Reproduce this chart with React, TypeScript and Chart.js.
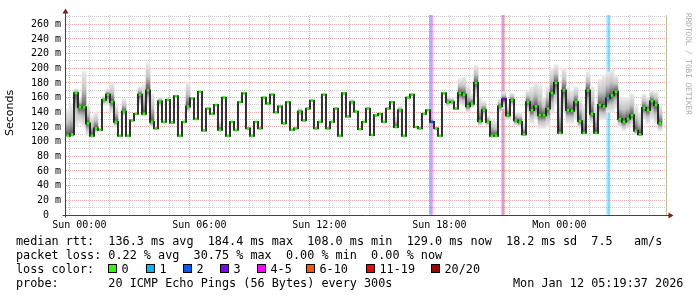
import React, { useEffect, useRef } from 'react';
import { Chart, registerables } from 'chart.js';

Chart.register(...registerables);

// ---- data (minutes counted from the left edge of the plot, Sat 23:20) ----
const STEP_MIN = 12;
const medianRtt = [
  108, 110, 166, 147, 147, 125, 108, 118, 116, 157,
  164, 154, 127, 108, 141, 108, 129, 138, 164, 138,
  170, 127, 118, 155, 127, 157, 126, 162, 108, 127,
  148, 159, 131, 168, 115, 145, 138, 150, 116, 160,
  108, 127, 116, 154, 166, 118, 108, 127, 118, 160,
  152, 164, 140, 148, 125, 154, 116, 118, 141, 129,
  145, 156, 118, 127, 164, 118, 127, 145, 108, 166,
  134, 154, 141, 117, 127, 145, 109, 136, 138, 127,
  145, 154, 120, 143, 108, 160, 164, 120, 118, 138,
  143, 127, 118, 108, 166, 154, 154, 145, 166, 164,
  148, 152, 180, 128, 143, 127, 108, 108, 148, 158,
  136, 157, 129, 127, 110, 154, 143, 148, 136, 136,
  145, 166, 180, 112, 170, 143, 142, 154, 128, 112,
  170, 138, 112, 150, 148, 159, 163, 168, 131, 127,
  131, 136, 115, 110, 146, 143, 155, 150, 125,
];
const smokeLow = [
  106, 107, 120, 125, 120, 108, 107, 112, null, 150,
  150, 140, 120, null, 135, null, null, null, 150, 135,
  150, 120, null, 148, null, null, null, null, null, null,
  140, null, null, null, null, null, null, null, 114, null,
  null, null, null, null, null, null, null, null, null, null,
  null, null, null, null, null, null, null, null, 136, null,
  null, null, null, null, null, null, null, null, null, null,
  null, 150, null, null, null, null, null, null, null, null,
  null, null, 118, 138, null, null, null, null, null, null,
  null, null, null, null, null, 148, 150, null, 150, 148,
  140, 146, 160, 122, 135, 122, 106, 106, 140, 145,
  130, 148, 122, 120, 108, 140, 125, 130, 118, 118,
  120, 140, 150, 110, 140, 125, 125, 130, 118, 110,
  140, 125, 110, 130, 130, 140, 140, 145, 120, 115,
  118, 122, 110, 108, 130, 125, 130, 125, 115,
];
const smokeHigh = [
  145, 150, 172, 160, 196, 150, 135, 140, null, 162,
  172, 180, 150, null, 158, null, null, null, 175, 178,
  207, 165, null, 160, null, null, null, null, null, null,
  182, null, null, null, null, null, null, null, 128, null,
  null, null, null, null, null, null, null, null, null, null,
  null, null, null, null, null, null, null, null, 146, null,
  null, null, null, null, null, null, null, null, null, null,
  null, 158, null, null, null, null, null, null, null, null,
  null, null, 135, 148, null, null, null, null, null, null,
  null, null, null, null, null, 162, 160, null, 186, 188,
  178, 165, 204, 160, 155, 135, 132, 128, 158, 168,
  150, 166, 140, 140, 125, 170, 175, 180, 178, 160,
  175, 200, 205, 160, 200, 175, 170, 175, 160, 150,
  195, 175, 150, 185, 190, 195, 198, 190, 160, 160,
  160, 165, 150, 140, 165, 160, 170, 168, 150,
];
// packet loss events: minute and index into the loss legend
const lossMinutes = [1093, 1098, 1309.5, 1314, 1624.5, 1629.5];
const lossLevels = [2, 4, 3, 5, 1, 1];
const lossLegendLabels = ['0', '1', '2', '3', '4-5', '6-10', '11-19', '20/20'];
const lossLegendColors = ['#26ff00', '#00b8ff', '#0059ff', '#7e00ff', '#ff00ff', '#ff5500', '#ff0000', '#a10000'];
const lossBandColors = ['rgba(38,255,0,0.35)', 'rgba(0,184,255,0.35)', 'rgba(0,89,255,0.35)', 'rgba(126,0,255,0.35)', 'rgba(255,0,255,0.35)', 'rgba(255,85,0,0.35)', 'rgba(255,0,0,0.35)', 'rgba(161,0,0,0.35)'];

const xTickMinutes = [40, 400, 760, 1120, 1480];
const xTickLabels = ['Sun 00:00', 'Sun 06:00', 'Sun 12:00', 'Sun 18:00', 'Mon 00:00'];
const yLabelValues = [0, 20, 40, 60, 80, 100, 120, 140, 160, 180, 200, 220, 240, 260];
const yGridValues = [0, 10, 20, 30, 40, 50, 60, 70, 80, 90, 100, 110, 120, 130, 140, 150, 160, 170, 180, 190, 200, 210, 220, 230, 240, 250, 260, 270];

const statsLine1 = 'median rtt:  136.3 ms avg  184.4 ms max  108.0 ms min  129.0 ms now  18.2 ms sd  7.5   am/s';
const statsLine2 = 'packet loss: 0.22 % avg  30.75 % max  0.00 % min  0.00 % now';
const lossTitle = 'loss color:';
const probeLine = 'probe:       20 ICMP Echo Pings (56 Bytes) every 300s';
const stampText = 'Mon Jan 12 05:19:37 2026';
const sideTitle = 'RRDTOOL / TOBI OETIKER';
const yTitle = 'Seconds';

const X_MIN = 0;
const X_MAX = 1800;
const Y_MAX = 272.7;
const NOW_MIN = 1799;

// layout constants
const legendBoxX = [108, 146, 183, 220, 257, 306, 366, 431];
const MONO = '"DejaVu Sans Mono", monospace';

function lossAt(i: number): number {
  const t0 = i * STEP_MIN;
  const t1 = t0 + STEP_MIN;
  for (let k = 0; k < lossMinutes.length; k++) {
    if (lossMinutes[k] >= t0 && lossMinutes[k] < t1) return lossLevels[k];
  }
  return 0;
}

const medianData = medianRtt.map((v, i) => ({ x: i * STEP_MIN + STEP_MIN / 2, y: v }));
const smokeData: any[] = [];
medianRtt.forEach((m, i) => {
  const lo = smokeLow[i];
  const hi = smokeHigh[i];
  if (lo !== null && hi !== null) smokeData.push({ x: i * STEP_MIN + STEP_MIN / 2, y: [lo, hi], m });
});
const lossData = lossMinutes.map((t, k) => ({ x: t, y: [0, Y_MAX], c: lossLevels[k] }));

function smokeColor(c: any) {
  const chart = c.chart;
  const raw = c.raw;
  if (!raw || !chart.chartArea || !chart.scales.y) return '#888';
  const ys = chart.scales.y;
  const top = ys.getPixelForValue(raw.y[1]);
  const bot = ys.getPixelForValue(raw.y[0]);
  const mid = ys.getPixelForValue(raw.m);
  if (bot - top < 1) return '#555';
  const g = chart.ctx.createLinearGradient(0, top, 0, bot);
  const f = Math.min(1, Math.max(0, (mid - top) / (bot - top)));
  g.addColorStop(0, '#ececec');
  g.addColorStop(f * 0.5, '#c4c4c4');
  g.addColorStop(f, '#555555');
  g.addColorStop(f + (1 - f) * 0.5, '#c4c4c4');
  g.addColorStop(1, '#ececec');
  return g;
}

const decor = {
  id: 'decor',
  afterDatasetsDraw(chart: any) {
    const { ctx, chartArea: a, scales } = chart;
    const x = scales.x;
    const y = scales.y;
    ctx.save();
    const nx = Math.round(x.getPixelForValue(NOW_MIN)) + 0.5;
    ctx.strokeStyle = '#c2bd9e';
    ctx.lineWidth = 1;
    ctx.beginPath();
    ctx.moveTo(nx, a.top);
    ctx.lineTo(nx, a.bottom);
    ctx.stroke();

    const ax = Math.round(x.getPixelForValue(X_MIN)) - 0.5;
    const ay = Math.round(y.getPixelForValue(0)) + 0.5;
    ctx.strokeStyle = '#2c4d43';
    ctx.beginPath();
    ctx.moveTo(ax, ay + 2);
    ctx.lineTo(ax, a.top - 2);
    ctx.moveTo(ax - 3, ay);
    ctx.lineTo(a.right + 3, ay);
    ctx.stroke();

    ctx.fillStyle = '#7f1f1f';
    ctx.beginPath();
    ctx.moveTo(ax, a.top - 6.5);
    ctx.lineTo(ax - 3, a.top - 1.5);
    ctx.lineTo(ax + 3, a.top - 1.5);
    ctx.closePath();
    ctx.fill();
    ctx.beginPath();
    ctx.moveTo(a.right + 7.5, ay);
    ctx.lineTo(a.right + 2.5, ay - 3);
    ctx.lineTo(a.right + 2.5, ay + 3);
    ctx.closePath();
    ctx.fill();
    ctx.restore();
  },
  afterDraw(chart: any) {
    const { ctx } = chart;
    ctx.save();
    ctx.fillStyle = '#000';
    ctx.textAlign = 'left';
    ctx.textBaseline = 'alphabetic';
    ctx.font = '11.8px ' + MONO;
    ctx.fillText(statsLine1, 16, 244.5);
    ctx.fillText(statsLine2, 16, 258.5);
    ctx.fillText(lossTitle, 16, 272.5);
    ctx.fillText(probeLine, 16, 286.5);
    ctx.fillText(stampText, 513, 286.5);
    lossLegendLabels.forEach((lab, k) => {
      const bx = legendBoxX[k];
      ctx.fillStyle = lossLegendColors[k];
      ctx.fillRect(bx + 0.5, 264.5, 8, 8);
      ctx.strokeStyle = '#000';
      ctx.lineWidth = 1;
      ctx.strokeRect(bx + 0.5, 264.5, 8, 8);
      ctx.fillStyle = '#000';
      ctx.fillText(lab, bx + 13.5, 272.5);
    });

    ctx.save();
    ctx.translate(10.5, 113);
    ctx.rotate(-Math.PI / 2);
    ctx.textAlign = 'center';
    ctx.textBaseline = 'middle';
    ctx.font = '11px "DejaVu Sans", sans-serif';
    ctx.fillText(yTitle, 0, 0);
    ctx.restore();

    ctx.save();
    ctx.translate(687.5, 13);
    ctx.rotate(Math.PI / 2);
    ctx.textAlign = 'left';
    ctx.textBaseline = 'middle';
    ctx.font = '7.7px ' + MONO;
    ctx.fillStyle = '#a8a8a8';
    ctx.fillText(sideTitle, 0, 0);
    ctx.restore();
    ctx.restore();
  },
};

const MAJOR = 'rgba(225,120,120,0.6)';
const MINOR = 'rgba(170,170,170,0.6)';

export default function App() {
  const ref = useRef<HTMLCanvasElement>(null);
  useEffect(() => {
    if (!ref.current) return;
    const chart = new Chart(ref.current, {
      type: 'line',
      data: {
        datasets: [
          {
            type: 'line',
            label: 'median',
            data: medianData,
            stepped: 'middle',
            borderColor: '#1c1c1c',
            borderWidth: 1.8,
            pointStyle: 'rect',
            pointRadius: 1.9,
            pointBorderWidth: 0,
            pointBackgroundColor: (c: any) => lossLegendColors[lossAt(c.dataIndex)],
            pointBorderColor: (c: any) => lossLegendColors[lossAt(c.dataIndex)],
            order: 1,
          } as any,
          {
            type: 'bar',
            label: 'smoke',
            data: smokeData,
            barThickness: 4,
            borderWidth: 0,
            backgroundColor: smokeColor,
            stack: 'all',
            order: 2,
          } as any,
          {
            type: 'bar',
            label: 'loss',
            data: lossData,
            barThickness: 1.7,
            borderWidth: 0,
            backgroundColor: (c: any) => (c.raw ? lossBandColors[c.raw.c] : 'transparent'),
            stack: 'all',
            order: 3,
          } as any,
        ],
      },
      options: {
        responsive: false,
        animation: false,
        devicePixelRatio: 1,
        events: [],
        layout: { padding: { left: 0, top: 15, right: 31, bottom: 0 } },
        plugins: { legend: { display: false }, tooltip: { enabled: false } },
        scales: {
          x: {
            type: 'linear',
            min: X_MIN,
            max: X_MAX,
            bounds: 'data',
            stacked: true,
            offset: false,
            afterFit: (s: any) => { s.height = 82; },
            afterBuildTicks: (s: any) => {
              const t: any[] = [];
              for (let v = xTickMinutes[0]; v < X_MAX; v += 60) t.push({ value: v });
              s.ticks = t;
            },
            ticks: {
              autoSkip: false,
              maxRotation: 0,
              minRotation: 0,
              padding: 4,
              color: '#000',
              font: { family: MONO, size: 10 },
              callback: (v: any) => {
                const k = xTickMinutes.indexOf(Number(v));
                return k >= 0 ? xTickLabels[k] : '';
              },
            },
            grid: {
              drawTicks: false,
              lineWidth: 1,
              borderDash: [1, 1],
              color: (c: any) => (c.tick && xTickMinutes.indexOf(c.tick.value) >= 0 ? MAJOR : MINOR),
            },
            border: { display: false, dash: [1, 1] },
          },
          y: {
            type: 'linear',
            min: 0,
            max: Y_MAX,
            bounds: 'data',
            stacked: false,
            afterFit: (s: any) => { s.width = 66; },
            afterBuildTicks: (s: any) => { s.ticks = yGridValues.map((v) => ({ value: v })); },
            ticks: {
              autoSkip: false,
              padding: 5,
              color: '#000',
              font: { family: MONO, size: 10 },
              callback: (v: any) => {
                const n = Number(v);
                if (yLabelValues.indexOf(n) < 0) return '';
                return n === 0 ? '0  ' : n + ' m';
              },
            },
            grid: {
              drawTicks: false,
              lineWidth: 1,
              borderDash: [1, 1],
              color: (c: any) => (c.tick && yLabelValues.indexOf(c.tick.value) >= 0 ? MAJOR : MINOR),
            },
            border: { display: false, dash: [1, 1] },
          },
        },
      } as any,
      plugins: [decor],
    });
    return () => chart.destroy();
  }, []);
  return (
    <div style={{ position: 'absolute', left: 0, top: 0, width: 697, height: 297, background: '#fff' }}>
      <canvas ref={ref} width={697} height={297} style={{ display: 'block', width: 697, height: 297 }} />
    </div>
  );
}
